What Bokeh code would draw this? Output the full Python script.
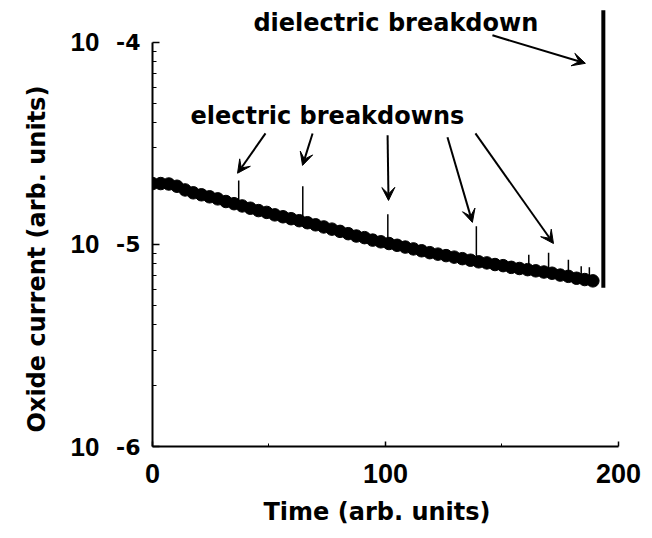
from bokeh.plotting import figure
from bokeh.models import (Range1d, FixedTicker, CustomJSTickFormatter, Label, LogAxis,
                          Arrow, VeeHead, ColumnDataSource, Title)
from bokeh.embed import file_html
from bokeh.resources import INLINE

# ---- data ----
time = [0, 3.5, 7, 10.5, 14, 17.5, 21, 24.5, 28, 31.5, 35, 38.5, 42, 45.5, 49, 52.5,
        56, 59.5, 63, 66.5, 70, 73.5, 77, 80.5, 84, 87.5, 91, 94.5, 98, 101.5, 105,
        108.5, 112, 115.5, 119, 122.5, 126, 129.5, 133, 136.5, 140, 143.5, 147, 150.5,
        154, 157.5, 161, 164.5, 168, 171.5, 175, 178.5, 182, 185.5, 189]
current = [20.0e-6, 20.0e-6, 19.9e-6, 19.4e-6, 18.6e-6, 18.0e-6, 17.6e-6, 17.2e-6, 16.8e-6,
           16.3e-6, 15.9e-6, 15.5e-6, 15.1e-6, 14.7e-6, 14.4e-6, 14.0e-6, 13.7e-6, 13.4e-6,
           13.1e-6, 12.8e-6, 12.5e-6, 12.2e-6, 11.9e-6, 11.6e-6, 11.3e-6, 11.0e-6, 10.8e-6,
           10.5e-6, 10.3e-6, 10.1e-6, 9.9e-6, 9.7e-6, 9.5e-6, 9.3e-6, 9.1e-6, 8.95e-6,
           8.8e-6, 8.65e-6, 8.5e-6, 8.35e-6, 8.2e-6, 8.1e-6, 7.95e-6, 7.85e-6, 7.7e-6,
           7.6e-6, 7.5e-6, 7.4e-6, 7.3e-6, 7.2e-6, 7.05e-6, 6.95e-6, 6.8e-6, 6.7e-6, 6.6e-6]

spike_time = [37, 64.5, 101, 139, 161.5, 170, 178.5, 184, 187.5]
spike_base = [15.6e-6, 12.9e-6, 10.1e-6, 8.25e-6, 7.5e-6, 7.25e-6, 6.95e-6, 6.75e-6, 6.65e-6]
spike_top = [20.7e-6, 19.4e-6, 14.1e-6, 12.3e-6, 8.9e-6, 9.1e-6, 8.4e-6, 7.8e-6, 7.7e-6]

breakdown_time = [193.5]
breakdown_low = [6.1e-6]
breakdown_high = [1.44e-4]

x_ticks = [0, 100, 200]
x_minor_ticks = [50, 150]
y_ticks = [1e-6, 1e-5, 1e-4]
y_tick_base = "10"
y_tick_exponents = ["-6", "-5", "-4"]
y_minor_ticks = [m * 1e-6 for m in range(2, 10)] + [m * 1e-5 for m in range(2, 10)]

# arrows (data coordinates)
arrow_x0 = [145.9, 48.5, 68.7, 100.9, 126.6, 138.6]
arrow_y0 = [1.083e-4, 3.54e-5, 3.54e-5, 3.47e-5, 3.39e-5, 3.54e-5]
arrow_x1 = [185.8, 36.5, 64.4, 101.3, 137.3, 172.1]
arrow_y1 = [7.87e-5, 2.25e-5, 2.46e-5, 1.65e-5, 1.285e-5, 1.01e-5]

x_title = "Time (arb. units)"
y_title = "Oxide current (arb. units)"
note_dielectric = "dielectric breakdown"
note_electric = "electric breakdowns"

# ---- figure ----
p = figure(width=652, height=538, x_range=Range1d(0, 214.6),
           y_range=Range1d(1e-6, 1.61e-4), y_axis_type="log",
           output_backend="svg", toolbar_location=None,
           min_border_left=152, min_border_right=0, min_border_top=0,
           min_border_bottom=92)
p.xgrid.visible = False
p.ygrid.visible = False
p.outline_line_color = None
p.background_fill_color = "white"
p.border_fill_color = "white"

xa = p.xaxis[0]
xa.bounds = (0, 200)
xa.ticker = FixedTicker(ticks=x_ticks, minor_ticks=x_minor_ticks)
xa.major_tick_in = 5
xa.major_tick_out = 0
xa.minor_tick_in = 3
xa.minor_tick_out = 0
xa.axis_line_width = 2
xa.major_tick_line_width = 1.5
xa.axis_line_color = "black"
xa.major_label_text_font = "Liberation Sans"
xa.major_label_text_font_style = "bold"
xa.major_label_text_font_size = "27px"
xa.major_label_text_color = "black"
xa.major_label_standoff = 17

# inner left axis: line, ticks and the exponent part of the labels
exp_code = """
let best = 0, bd = Infinity;
for (let i = 0; i < tick_values.length; i++) {
  const d = Math.abs(Math.log10(tick) - Math.log10(tick_values[i]));
  if (d < bd) { bd = d; best = i; }
}
return exp_labels[best];
"""
ya = p.yaxis[0]
ya.bounds = (1e-6, 1e-4)
ya.ticker = FixedTicker(ticks=y_ticks, minor_ticks=y_minor_ticks)
ya.formatter = CustomJSTickFormatter(
    args=dict(tick_values=y_ticks, exp_labels=y_tick_exponents), code=exp_code)
ya.major_tick_in = 7
ya.major_tick_out = 0
ya.minor_tick_in = 4
ya.minor_tick_out = 0
ya.axis_line_width = 2
ya.major_tick_line_width = 1.5
ya.axis_line_color = "black"
ya.major_label_text_font = "DejaVu Sans"
ya.major_label_text_font_style = "bold"
ya.major_label_text_font_size = "22px"
ya.major_label_text_color = "black"
ya.major_label_standoff = 12

# outer left axis: the "10" base of the labels
yb = LogAxis(bounds=(1e-6, 1e-4),
             ticker=FixedTicker(ticks=y_ticks, minor_ticks=[]),
             formatter=CustomJSTickFormatter(args=dict(base_text=y_tick_base),
                                             code="return base_text;"),
             axis_line_color=None, major_tick_line_color=None, minor_tick_line_color=None,
             major_tick_in=0, major_tick_out=0, minor_tick_in=0, minor_tick_out=0,
             major_label_text_font="Liberation Sans", major_label_text_font_style="bold",
             major_label_text_font_size="26px", major_label_text_color="black",
             major_label_standoff=14)
p.add_layout(yb, "left")

# data
p.scatter(time, current, size=12.5, color="black")
p.segment(spike_time, spike_base, spike_time, spike_top, line_width=1.5, color="black")
p.segment(breakdown_time, breakdown_low, breakdown_time, breakdown_high, line_width=4,
          color="black")

# arrows
arr_src = ColumnDataSource(dict(x0=arrow_x0, y0=arrow_y0, x1=arrow_x1, y1=arrow_y1))
p.add_layout(Arrow(source=arr_src, x_start="x0", y_start="y0", x_end="x1", y_end="y1",
                   line_width=2, line_color="black",
                   end=VeeHead(size=13, fill_color="black", line_color="black")))

# annotation texts
p.add_layout(Label(x=43.3, y=1.25e-4, text=note_dielectric, text_align="left",
                   text_baseline="alphabetic", text_font="DejaVu Sans",
                   text_font_style="bold", text_font_size="24px", text_color="black"))
p.add_layout(Label(x=16.3, y=4.31e-5, text=note_electric, text_align="left",
                   text_baseline="alphabetic", text_font="DejaVu Sans",
                   text_font_style="bold", text_font_size="24px", text_color="black"))

# axis titles
p.add_layout(Title(text=x_title, align="left", offset=111, standoff=21,
                   text_font="DejaVu Sans", text_font_style="bold",
                   text_font_size="24px", text_color="black"), "below")
p.add_layout(Title(text=y_title, align="left", offset=14, standoff=34,
                   text_font="DejaVu Sans", text_font_style="bold",
                   text_font_size="24px", text_color="black"), "left")

open("out.html", "w").write(file_html(p, INLINE))
